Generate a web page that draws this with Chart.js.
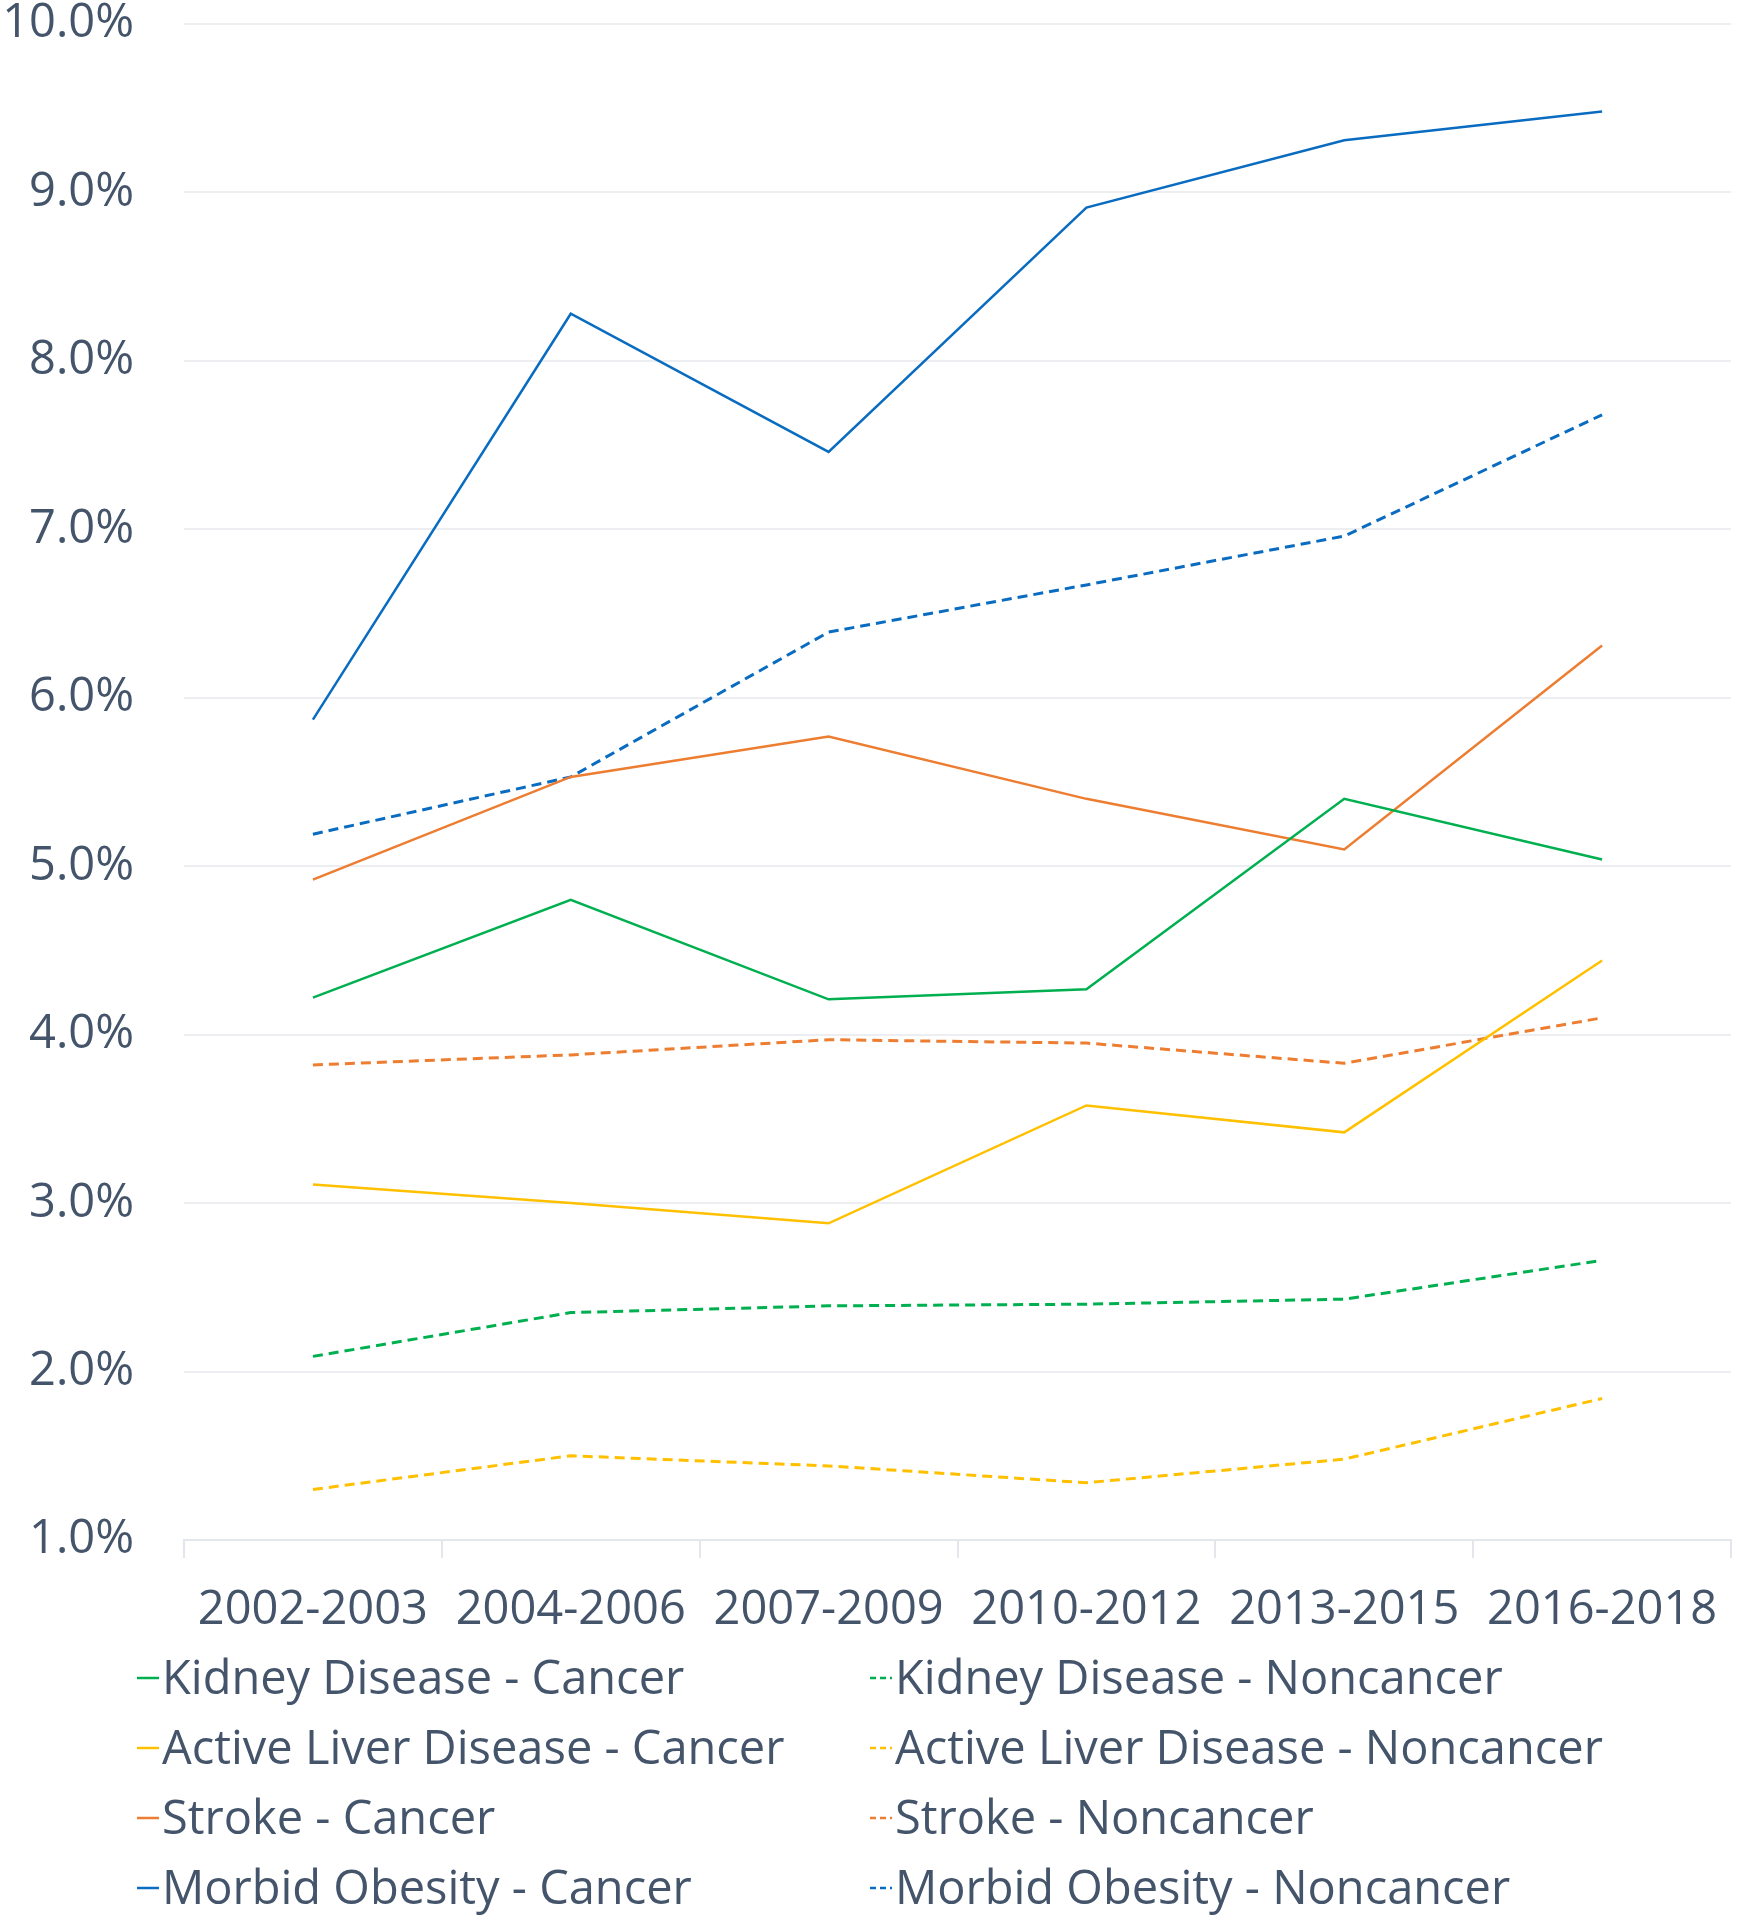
<!DOCTYPE html>
<html>
<head>
<meta charset="utf-8">
<script src="https://cdn.jsdelivr.net/npm/chart.js@4.4.1/dist/chart.umd.min.js"></script>
<style>
  body { margin: 0; background: #fff; }
  #wrap { width: 1738px; height: 1920px; position: relative; }
</style>
</head>
<body>
<div id="wrap"><canvas id="grafico"></canvas></div>
<script>
// periodos
const periods = ["2002-2003", "2004-2006", "2007-2009", "2010-2012", "2013-2015", "2016-2018"];

// series (%)
const kidneyCancer = [4.22, 4.80, 4.21, 4.27, 5.40, 5.04];
const kidneyNoncancer = [2.09, 2.35, 2.39, 2.40, 2.43, 2.66];
const liverCancer = [3.11, 3.00, 2.88, 3.58, 3.42, 4.44];
const liverNoncancer = [1.30, 1.50, 1.44, 1.34, 1.48, 1.84];
const strokeCancer = [4.92, 5.53, 5.77, 5.40, 5.10, 6.31];
const strokeNoncancer = [3.82, 3.88, 3.97, 3.95, 3.83, 4.10];
const obesityCancer = [5.87, 8.28, 7.46, 8.91, 9.31, 9.48];
const obesityNoncancer = [5.19, 5.53, 6.39, 6.67, 6.96, 7.68];

const yTicks = [1, 2, 3, 4, 5, 6, 7, 8, 9, 10];

const GREEN = "#00b050";
const YELLOW = "#ffc000";
const ORANGE = "#ed7d31";
const BLUE = "#0a6cc0";
const TEXT = "#44546a";
const FONT = "'Open Sans', sans-serif";

function serie(label, data, color, dashed) {
  return {
    label: label,
    data: data,
    borderColor: color,
    backgroundColor: color,
    borderWidth: dashed ? 3 : 2.5,
    borderDash: dashed ? [10, 6] : [],
    pointRadius: 0,
    tension: 0,
    fill: false,
  };
}

const datasets = [
  serie("Kidney Disease - Cancer", kidneyCancer, GREEN, false),
  serie("Kidney Disease - Noncancer", kidneyNoncancer, GREEN, true),
  serie("Active Liver Disease - Cancer", liverCancer, YELLOW, false),
  serie("Active Liver Disease - Noncancer", liverNoncancer, YELLOW, true),
  serie("Stroke - Cancer", strokeCancer, ORANGE, false),
  serie("Stroke - Noncancer", strokeNoncancer, ORANGE, true),
  serie("Morbid Obesity - Cancer", obesityCancer, BLUE, false),
  serie("Morbid Obesity - Noncancer", obesityNoncancer, BLUE, true),
];

// leyenda en dos columnas
const legendGrid = {
  id: "legendGrid",
  afterDraw(chart) {
    const ctx = chart.ctx;
    const colX = [137, 870];
    const rowBase = [1694, 1764, 1834, 1904];
    ctx.save();
    ctx.font = "47px " + FONT;
    ctx.textBaseline = "alphabetic";
    ctx.textAlign = "left";
    chart.data.datasets.forEach((ds, i) => {
      const x = colX[i % 2];
      const y = rowBase[Math.floor(i / 2)];
      ctx.strokeStyle = ds.borderColor;
      ctx.lineWidth = 2.5;
      ctx.setLineDash(ds.borderDash.length ? [6, 4] : []);
      ctx.beginPath();
      ctx.moveTo(x, y - 16);
      ctx.lineTo(x + 22, y - 16);
      ctx.stroke();
      ctx.setLineDash([]);
      ctx.fillStyle = TEXT;
      ctx.fillText(ds.label, x + 25, y);
    });
    ctx.restore();
  },
};

new Chart(document.getElementById("grafico"), {
  type: "line",
  data: { labels: periods, datasets: datasets },
  options: {
    responsive: true,
    maintainAspectRatio: false,
    animation: false,
    layout: { padding: { top: 24, right: 7, bottom: 280, left: 0 } },
    plugins: {
      legend: { display: false },
      tooltip: { enabled: false },
    },
    scales: {
      x: {
        offset: true,
        grid: {
          offset: true,
          drawOnChartArea: false,
          drawTicks: true,
          tickLength: 18,
          color: "#e3e6eb",
          lineWidth: 2,
        },
        border: { display: true, color: "#e3e6eb", width: 2 },
        ticks: {
          color: TEXT,
          font: { family: FONT, size: 47 },
          padding: 24,
          maxRotation: 0,
          autoSkip: false,
        },
        afterFit(scale) {
          scale.height = 100;
          scale.paddingLeft = 0;
          scale.paddingRight = 0;
        },
      },
      y: {
        min: yTicks[0],
        max: yTicks[yTicks.length - 1],
        afterBuildTicks(scale) {
          scale.ticks = yTicks.map((v) => ({ value: v }));
        },
        grid: { drawTicks: false, color: "#eceef1", lineWidth: 2 },
        border: { display: false },
        ticks: {
          color: TEXT,
          font: { family: FONT, size: 47, lineHeight: 1.05 },
          padding: 50,
          callback: (v) => v.toFixed(1) + "%",
        },
        afterFit(scale) {
          scale.width = 184;
          scale.paddingTop = 0;
          scale.paddingBottom = 0;
        },
      },
    },
  },
  plugins: [legendGrid],
});
</script>
</body>
</html>
